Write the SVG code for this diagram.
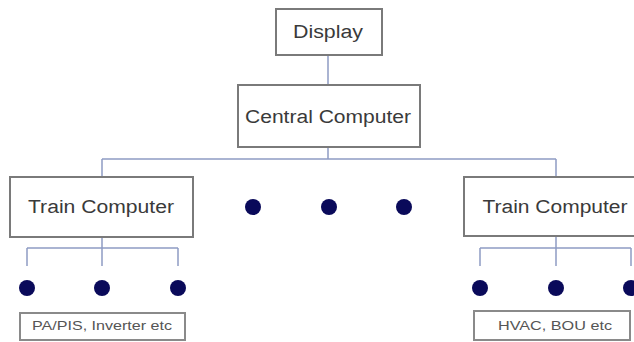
<svg xmlns="http://www.w3.org/2000/svg" width="634" height="342" viewBox="0 0 634 342">
<style>
.box{fill:#fff;stroke:#7a7a7a;stroke-width:2}
.sbox{fill:#fff;stroke:#8a8a8a;stroke-width:2}
.t{font-family:"Liberation Sans",Arial,sans-serif;fill:#3a3a3a;text-anchor:middle;font-size:18px}
.s{font-family:"Liberation Sans",Arial,sans-serif;fill:#555;text-anchor:middle;font-size:12.5px}
.ln{stroke:#8e9cc4;stroke-width:1.5;fill:none}
.dot{fill:#0a0a5a}
</style>
<g id="connectors">
<path class="ln" d="M328 55V85M328 147V159M102 159H556M102 159V177M556 159V177"/>
<path class="ln" d="M102 237V248M27 248H178M27 248V266M102 248V266M178 248V266"/>
<path class="ln" d="M556 236V248M480 248H631M480 248V266M556 248V266M631 248V266"/>
</g>
<g id="display"><rect class="box" x="276" y="9" width="106" height="46"/><text class="t" x="328" y="38" textLength="70" lengthAdjust="spacingAndGlyphs">Display</text></g>
<g id="central"><rect class="box" x="238" y="85" width="182" height="62"/><text class="t" x="328" y="123" textLength="166" lengthAdjust="spacingAndGlyphs">Central Computer</text></g>
<g id="train-left"><rect class="box" x="10" y="177" width="183" height="60"/><text class="t" x="101" y="213" textLength="146" lengthAdjust="spacingAndGlyphs">Train Computer</text></g>
<g id="train-right"><rect class="box" x="464" y="177" width="180" height="59"/><text class="t" x="555" y="213" textLength="145" lengthAdjust="spacingAndGlyphs">Train Computer</text></g>
<g id="mid-dots"><circle class="dot" cx="253" cy="207" r="8"/><circle class="dot" cx="329" cy="207" r="8"/><circle class="dot" cx="404" cy="207" r="8"/></g>
<g id="left-dots"><circle class="dot" cx="27" cy="288" r="8"/><circle class="dot" cx="102" cy="288" r="8"/><circle class="dot" cx="178" cy="288" r="8"/></g>
<g id="right-dots"><circle class="dot" cx="480" cy="288" r="8"/><circle class="dot" cx="556" cy="288" r="8"/><circle class="dot" cx="631" cy="288" r="8"/></g>
<g id="left-label"><rect class="sbox" x="20" y="313" width="165" height="27"/><text class="s" x="102" y="330" textLength="140" lengthAdjust="spacingAndGlyphs">PA/PIS, Inverter etc</text></g>
<g id="right-label"><rect class="sbox" x="474" y="311" width="156" height="29"/><text class="s" x="555" y="330" textLength="114" lengthAdjust="spacingAndGlyphs">HVAC, BOU etc</text></g>
</svg>
